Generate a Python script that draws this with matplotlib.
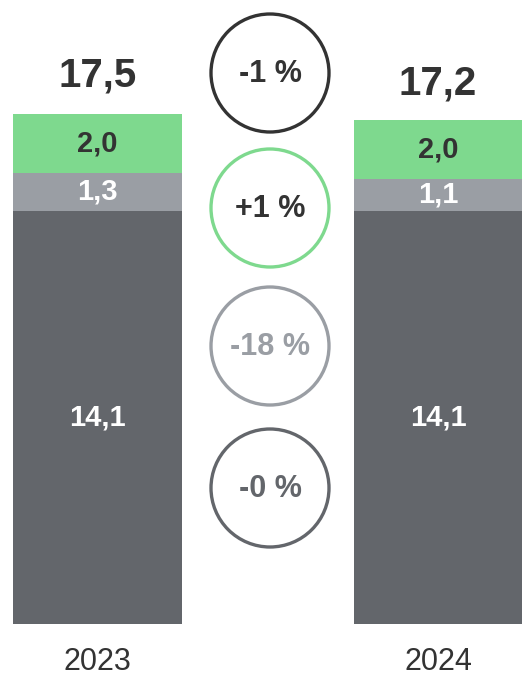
import matplotlib.pyplot as plt
from matplotlib.patches import Circle

plt.rcParams['font.family'] = ['Liberation Sans', 'DejaVu Sans']

# ---------- data ----------
years = ['2023', '2024']
base = [14.1, 14.1]     # dark gray segment
middle = [1.3, 1.1]     # light gray segment
top = [2.0, 2.0]        # green segment
totals = [17.5, 17.2]
changes = ['-1 %', '+1 %', '-18 %', '-0 %']

c_dark = '#63666b'
c_gray = '#9a9ea4'
c_green = '#7ed98e'
c_text = '#333333'

W, H = 524, 675
fig = plt.figure(figsize=(W / 100, H / 100), dpi=100)

# ---------- bars ----------
ax = fig.add_axes([0, (H - 624) / H, 1, 586 / H])
ax.set_xlim(-97.5 / 340.5, (W - 97.5) / 340.5)
ax.set_ylim(0, 20)
ax.axis('off')

x = [0, 1]
bw = 0.495
ax.bar(x, base, width=bw, color=c_dark)
ax.bar(x, middle, width=bw, bottom=base, color=c_gray)
bot2 = [b + m for b, m in zip(base, middle)]
ax.bar(x, top, width=bw, bottom=bot2, color=c_green)

def fmt(v):
    return f'{v:.1f}'.replace('.', ',')

for i in x:
    ax.text(i, base[i] / 2, fmt(base[i]), ha='center', va='center',
            color='white', fontsize=21, fontweight='bold')
    ax.text(i, base[i] + middle[i] / 2, fmt(middle[i]), ha='center', va='center',
            color='white', fontsize=21, fontweight='bold')
    ax.text(i, bot2[i] + top[i] / 2, fmt(top[i]), ha='center', va='center',
            color=c_text, fontsize=21, fontweight='bold')
    ax.annotate(fmt(totals[i]), (i, totals[i]), xytext=(0, 26), textcoords='offset points',
                ha='center', va='center', color=c_text, fontsize=29, fontweight='bold')
    ax.annotate(years[i], (i, 0), xytext=(0, -27), textcoords='offset points',
                ha='center', va='center', color=c_text, fontsize=22)

# ---------- change circles ----------
ov = fig.add_axes([0, 0, 1, 1])
ov.set_xlim(0, W)
ov.set_ylim(H, 0)
ov.axis('off')

circle_y = [73, 208, 346, 488]
edge_cols = [c_text, c_green, c_gray, c_dark]
text_cols = [c_text, c_text, c_gray, c_dark]
for cy, lab, ec, tc in zip(circle_y, changes, edge_cols, text_cols):
    ov.add_patch(Circle((270, cy), 59, fill=False, edgecolor=ec, linewidth=2.4))
    ov.text(270, cy + 1, lab, ha='center', va='center', color=tc,
            fontsize=22, fontweight='bold')

plt.savefig('out.png', dpi=100)
